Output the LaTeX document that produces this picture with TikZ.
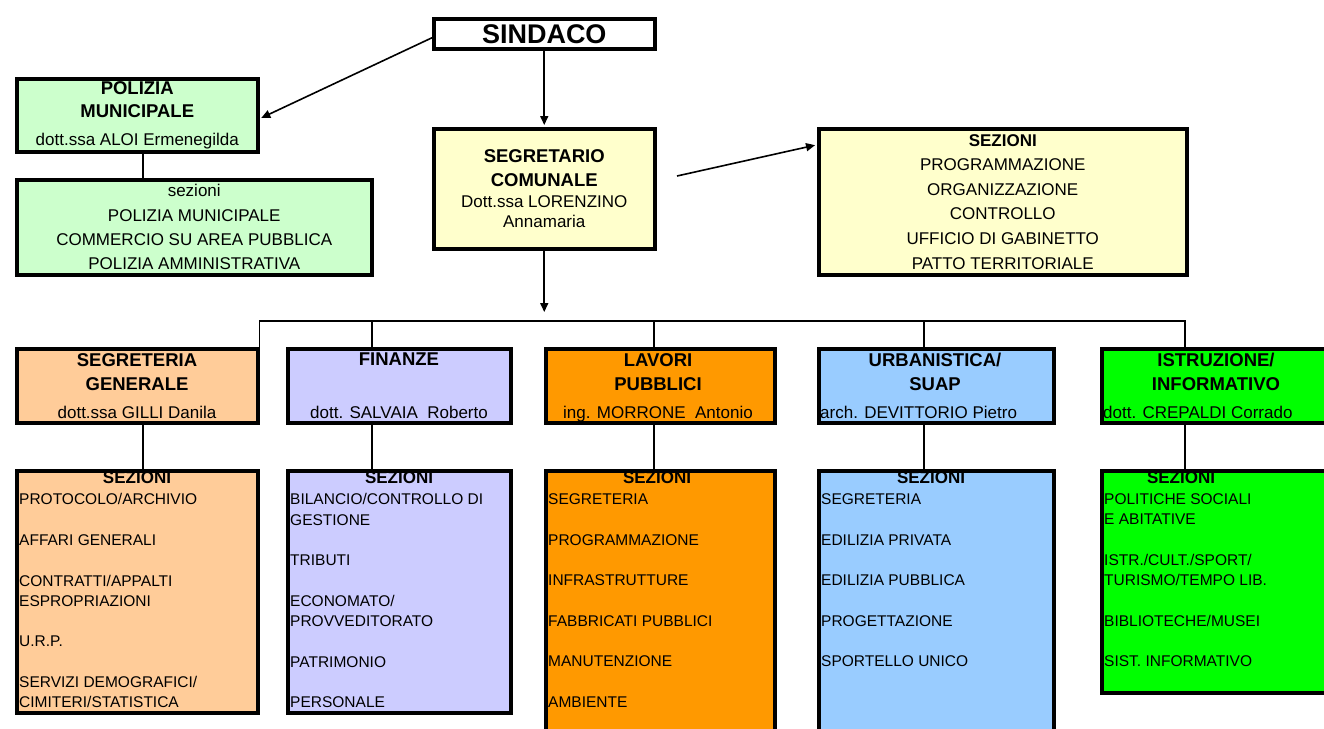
\documentclass[tikz,border=0pt]{standalone}
\usepackage{fontspec}
\setmainfont{Liberation Sans}
\usetikzlibrary{arrows.meta}

\definecolor{polgreen}{HTML}{CCFFCC}
\definecolor{segyellow}{HTML}{FFFFCC}
\definecolor{segrpeach}{HTML}{FFCC99}
\definecolor{finlilac}{HTML}{CCCCFF}
\definecolor{lavorange}{HTML}{FF9900}
\definecolor{urbblue}{HTML}{99CCFF}
\definecolor{istrgreen}{HTML}{00FF00}

\tikzset{
  box/.style={draw, line width=3.5pt, inner sep=0pt, anchor=north west, align=center},
  link/.style={line width=1.6pt},
  arr/.style={link, -{Triangle[length=9pt,width=8pt]}, shorten >=2pt},
  sethead/.style={font=\bfseries\fontsize{18.5}{24}\selectfont, inner sep=0pt, align=center, anchor=north},
  person/.style={font=\fontsize{17}{20}\selectfont, inner sep=0pt},
  sectitle/.style={font=\bfseries\fontsize{17}{20}\selectfont, inner sep=0pt, anchor=north},
  seclist/.style={font=\fontsize{15.5}{20.3}\selectfont, inner sep=0pt, align=left, anchor=north west}
}

\begin{document}
\begin{tikzpicture}[x=1pt,y=-1pt]
    \useasboundingbox (0,0) rectangle (1324,728);
    \clip (0,0) rectangle (1324,728);
    % upper part
    \path   node[box, minimum width=221, minimum height=30, font=\bfseries\fontsize{27}{30}\selectfont] (sindaco) at (432,17) {SINDACO}
            node[box, fill=polgreen, minimum width=241, minimum height=73, font=\fontsize{17}{23}\selectfont] (polizia) at (15,77)
                {{\bfseries\fontsize{18.5}{23}\selectfont POLIZIA}\\{\bfseries\fontsize{18.5}{23}\selectfont MUNICIPALE}\\[4.7pt]dott.ssa ALOI Ermenegilda}
            node[box, fill=polgreen, minimum width=355, minimum height=95, font=\fontsize{17}{24.3}\selectfont] (polsez) at (15,178)
                {sezioni\\POLIZIA MUNICIPALE\\COMMERCIO SU AREA PUBBLICA\\POLIZIA AMMINISTRATIVA}
            node[box, fill=segyellow, minimum width=221, minimum height=120, font=\fontsize{17}{20}\selectfont] (segretario) at (432,127)
                {{\bfseries\fontsize{18.5}{20}\selectfont SEGRETARIO}\\[4pt]{\bfseries\fontsize{18.5}{20}\selectfont COMUNALE}\\[1.7pt]Dott.ssa LORENZINO\\Annamaria}
            node[box, fill=segyellow, minimum width=368, minimum height=146, font=\fontsize{17}{24.6}\selectfont] (segsez) at (817,127)
                {\textbf{SEZIONI}\\PROGRAMMAZIONE\\ORGANIZZAZIONE\\CONTROLLO\\UFFICIO DI GABINETTO\\PATTO TERRITORIALE};
    % settori
    \path   node[box, fill=segrpeach, minimum width=241, minimum height=74] (segr) at (15,347) {}
            node[box, fill=finlilac, minimum width=223, minimum height=74] (fin) at (286,347) {}
            node[box, fill=lavorange, minimum width=229, minimum height=74] (lav) at (544,347) {}
            node[box, fill=urbblue, minimum width=235, minimum height=74] (urb) at (817,347) {}
            node[box, fill=istrgreen, minimum width=234, minimum height=74] (istr) at (1100,347) {}
            node[box, fill=segrpeach, minimum width=241, minimum height=242] (segrsez) at (15,469) {}
            node[box, fill=finlilac, minimum width=223, minimum height=242] (finsez) at (286,469) {}
            node[box, fill=lavorange, minimum width=229, minimum height=275] (lavsez) at (544,469) {}
            node[box, fill=urbblue, minimum width=235, minimum height=275] (urbsez) at (817,469) {}
            node[box, fill=istrgreen, minimum width=234, minimum height=222] (istrsez) at (1100,469) {};
    \path   node[sethead] (segrhd) at (137,353) {SEGRETERIA\\GENERALE}
            node[person, anchor=base] (segrnm) at (137,418) {dott.ssa GILLI Danila}
            node[sethead] (finhd) at (399,353) {FINANZE}
            node[person, anchor=base] (finnm) at (399,418) {dott. SALVAIA\ \ Roberto}
            node[sethead] (lavhd) at (658,353) {LAVORI\\PUBBLICI}
            node[person, anchor=base] (lavnm) at (658,418) {ing. MORRONE\ \ Antonio}
            node[sethead] (urbhd) at (935,353) {URBANISTICA/\\SUAP}
            node[person, anchor=base west] (urbnm) at (820,418) {arch. DEVITTORIO Pietro}
            node[sethead] (istrhd) at (1216,353) {ISTRUZIONE/\\INFORMATIVO}
            node[person, anchor=base west] (istrnm) at (1103,418) {dott. CREPALDI Corrado};
    \path   node[sectitle] (segrst) at (137,471.9) {SEZIONI}
            node[seclist] (segrls) at (19,493.4)
                {PROTOCOLO/ARCHIVIO\\[20.3pt]AFFARI GENERALI\\[20.3pt]CONTRATTI/APPALTI\\ESPROPRIAZIONI\\[20.3pt]U.R.P.\\[20.3pt]SERVIZI DEMOGRAFICI/\\CIMITERI/STATISTICA}
            node[sectitle] (finst) at (399,471.9) {SEZIONI}
            node[seclist] (finls) at (290,493.4)
                {BILANCIO/CONTROLLO DI\\GESTIONE\\[20.3pt]TRIBUTI\\[20.3pt]ECONOMATO/\\PROVVEDITORATO\\[20.3pt]PATRIMONIO\\[20.3pt]PERSONALE}
            node[sectitle] (lavst) at (657,471.9) {SEZIONI}
            node[seclist] (lavls) at (548,493.4)
                {SEGRETERIA\\[20.3pt]PROGRAMMAZIONE\\[20.3pt]INFRASTRUTTURE\\[20.3pt]FABBRICATI PUBBLICI\\[20.3pt]MANUTENZIONE\\[20.3pt]AMBIENTE}
            node[sectitle] (urbst) at (931,471.9) {SEZIONI}
            node[seclist] (urbls) at (821,493.4)
                {SEGRETERIA\\[20.3pt]EDILIZIA PRIVATA\\[20.3pt]EDILIZIA PUBBLICA\\[20.3pt]PROGETTAZIONE\\[20.3pt]SPORTELLO UNICO}
            node[sectitle] (istrst) at (1181,471.9) {SEZIONI}
            node[seclist] (istrls) at (1104,493.4)
                {POLITICHE SOCIALI\\E ABITATIVE\\[20.3pt]ISTR./CULT./SPORT/\\TURISMO/TEMPO LIB.\\[20.3pt]BIBLIOTECHE/MUSEI\\[20.3pt]SIST. INFORMATIVO};
    % connectors
    \coordinate (dsegr) at (143,321);
    \coordinate (dfin) at (372,321);
    \coordinate (dlav) at (654,321);
    \coordinate (durb) at (924,321);
    \coordinate (busr) at (1185,321);
    \coordinate (segarr) at (677,176);
    \coordinate (segend) at (542.5,314);
    \draw[arr] ([yshift=-4pt]sindaco.west) -- ([yshift=-3.5pt]polizia.east);
    \draw[arr] (sindaco.south) -- (sindaco.south |- segretario.north);
    \draw[arr] (segarr) -- ([yshift=57pt]segsez.west);
    \draw[arr] (sindaco.south |- segretario.south) -- (sindaco.south |- segend);
    \draw[link] (dsegr |- polizia.south) -- (dsegr |- polsez.north);
    \draw[link] (segr.north east) |- (busr) -- (busr |- istr.north);
    \draw[link] (dfin) -- (dfin |- fin.north);
    \draw[link] (dlav) -- (dlav |- lav.north);
    \draw[link] (durb) -- (durb |- urb.north);
    \draw[link] (dsegr |- segr.south) -- (dsegr |- segrsez.north);
    \draw[link] (dfin |- fin.south) -- (dfin |- finsez.north);
    \draw[link] (dlav |- lav.south) -- (dlav |- lavsez.north);
    \draw[link] (durb |- urb.south) -- (durb |- urbsez.north);
    \draw[link] (busr |- istr.south) -- (busr |- istrsez.north);
\end{tikzpicture}
\end{document}
